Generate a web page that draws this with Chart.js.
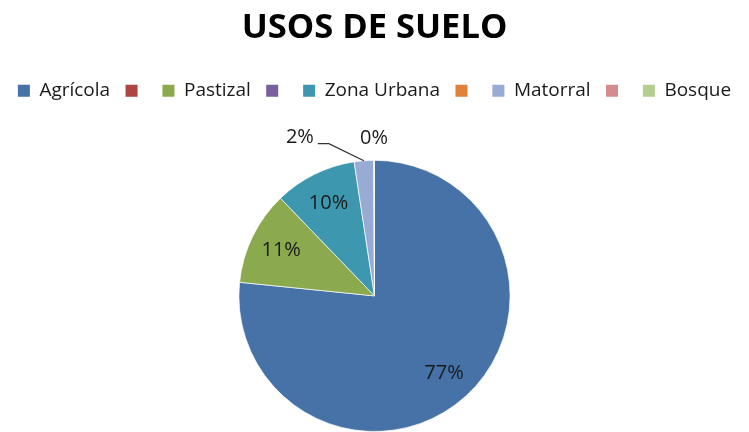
<!DOCTYPE html>
<html>
<head>
<meta charset="utf-8">
<script src="https://cdn.jsdelivr.net/npm/chart.js@4.4.1/dist/chart.umd.min.js"></script>
<style>
  html, body { margin: 0; padding: 0; background: #fff; overflow: hidden; }
  #wrap { width: 749px; height: 432px; position: relative; }
</style>
</head>
<body>
<div id="wrap"><canvas id="c" width="749" height="432"></canvas></div>
<script>
const TITLE = 'USOS DE SUELO';
const categories = ['Agrícola', '', 'Pastizal', '', 'Zona Urbana', '', 'Matorral', '', 'Bosque'];
const values = [76.6, 0, 11.2, 0, 9.8, 0, 2.3, 0, 0.1];
const colors = ['#4672A8', '#AE4542', '#8BA94D', '#7A5E9E', '#3D97AF', '#E0823A', '#98ABD4', '#D38C8E', '#B5CD8F'];

const FONT = '"Open Sans", "Noto Sans", sans-serif';

// Empty layout box between legend and plot area
const spacerPlugin = {
  id: 'spacer',
  beforeInit(chart) {
    const box = {
      id: 'spacerBox',
      position: 'top', weight: 500, fullSize: true, options: {},
      top: 0, left: 0, right: 0, bottom: 0, width: 0, height: 0,
      isHorizontal() { return true; },
      update(maxWidth) { this.width = maxWidth; this.height = 49.5; },
      draw() {}
    };
    Chart.layouts.addBox(chart, box);
  }
};

const pctLabels = {
  id: 'pctLabels',
  afterDatasetsDraw(chart) {
    const ctx = chart.ctx;
    const ds = chart.data.datasets[0].data;
    const total = ds.reduce((a, b) => a + b, 0);
    const meta = chart.getDatasetMeta(0);
    ctx.save();
    ctx.font = '20px ' + FONT;
    ctx.fillStyle = '#1a1a1a';
    ctx.textBaseline = 'middle';
    meta.data.forEach((arc, i) => {
      const v = ds[i];
      if (!(v > 0)) return;
      const frac = v / total;
      const txt = Math.round(frac * 100) + '%';
      const p = arc.getProps(['x', 'y', 'startAngle', 'endAngle', 'outerRadius'], true);
      const mid = (p.startAngle + p.endAngle) / 2;
      const r = p.outerRadius;
      if (frac >= 0.05) {
        ctx.textAlign = 'center';
        ctx.fillText(txt, p.x + Math.cos(mid) * r * 0.765, p.y + Math.sin(mid) * r * 0.765);
      } else if (frac < 0.01) {
        ctx.textAlign = 'center';
        ctx.fillText(txt, p.x + Math.cos(mid) * (r + 22), p.y + Math.sin(mid) * (r + 22));
      } else {
        const ex = p.x + Math.cos(mid) * r, ey = p.y + Math.sin(mid) * r;
        const bx = ex - 35, by = ey - 17;
        const hx = bx - 11;
        ctx.strokeStyle = '#333';
        ctx.lineWidth = 1.3;
        ctx.beginPath();
        ctx.moveTo(ex, ey);
        ctx.lineTo(bx, by);
        ctx.lineTo(hx, by);
        ctx.stroke();
        ctx.textAlign = 'right';
        ctx.fillText(txt, hx - 4, by - 6);
      }
    });
    ctx.restore();
  }
};

new Chart(document.getElementById('c'), {
  type: 'pie',
  data: {
    labels: categories,
    datasets: [{
      data: values,
      backgroundColor: colors,
      borderColor: 'rgba(255,255,255,0.7)',
      borderWidth: 1
    }]
  },
  options: {
    responsive: false,
    animation: false,
    plugins: {
      tooltip: { enabled: false },
      title: {
        display: true,
        text: TITLE,
        color: '#000',
        font: { family: FONT, size: 34.5, weight: '700', lineHeight: 1.2 },
        padding: { top: 7, bottom: 17.5 }
      },
      legend: {
        display: true,
        position: 'top',
        labels: {
          color: '#1a1a1a',
          font: { family: FONT, size: 19, lineHeight: 1 },
          boxWidth: 12,
          boxHeight: 12,
          padding: 15.4,
          generateLabels(chart) {
            const base = Chart.overrides.pie.plugins.legend.labels.generateLabels(chart);
            return base.map(l => Object.assign({}, l, { lineWidth: 0, strokeStyle: 'rgba(0,0,0,0)', hidden: false }));
          }
        }
      }
    }
  },
  plugins: [spacerPlugin, pctLabels]
});
</script>
</body>
</html>
